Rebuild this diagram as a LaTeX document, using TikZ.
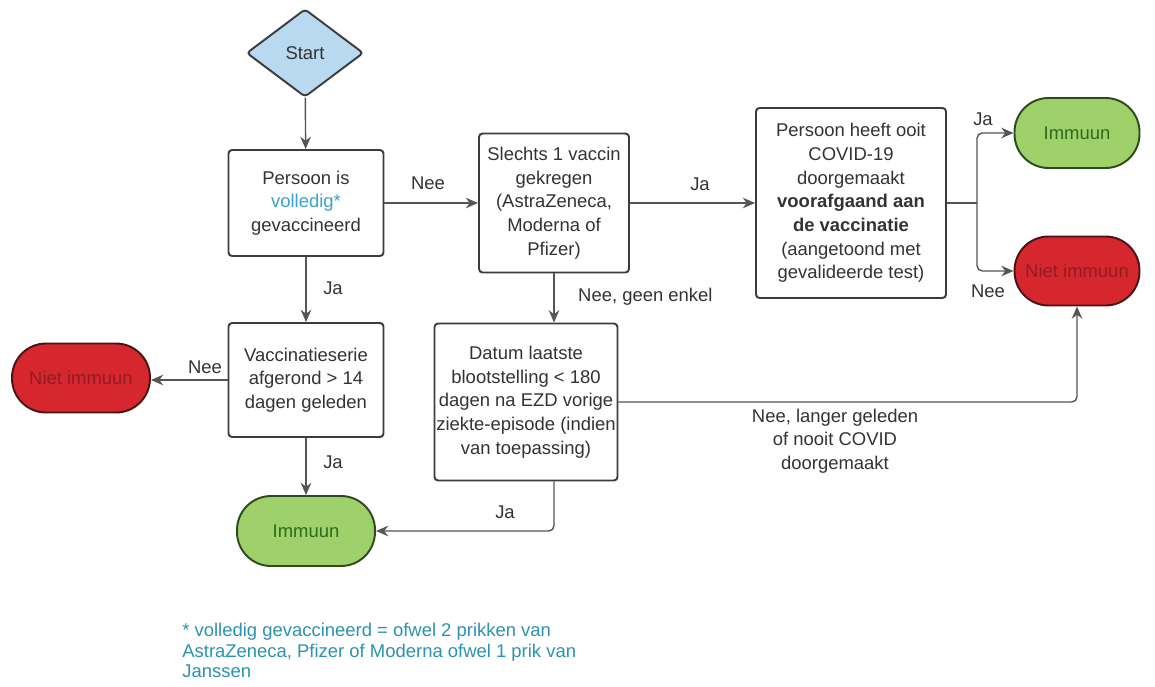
\documentclass[tikz,border=0pt]{standalone}
\usepackage{fontspec}
\setmainfont{Liberation Sans}
\usetikzlibrary{shapes.geometric, arrows.meta}
\definecolor{boxline}{HTML}{3C3C3C}
\definecolor{wireline}{HTML}{555555}
\definecolor{txt}{HTML}{333333}
\definecolor{startfill}{HTML}{B9D9F1}
\definecolor{immfill}{HTML}{9FD16A}
\definecolor{immline}{HTML}{2F4A1E}
\definecolor{immtext}{HTML}{2E6A1C}
\definecolor{nietfill}{HTML}{D6262E}
\definecolor{nietline}{HTML}{4A1416}
\definecolor{niettext}{HTML}{941C20}
\definecolor{notecol}{HTML}{2C93B0}
\definecolor{vollcol}{HTML}{3AA3CC}

\begin{document}
\begin{tikzpicture}[x=0.02cm, y=-0.02cm, font=\fontsize{10.5}{13.5}\selectfont,
  box/.style={draw=boxline, line width=1.1pt, rounded corners=2pt, fill=white, align=center, text=txt, inner sep=1pt},
  imm/.style={draw=immline, fill=immfill, text=immtext, line width=1.1pt, rounded corners=0.68cm, minimum height=1.4cm},
  niet/.style={draw=nietline, fill=nietfill, text=niettext, line width=1.1pt, rounded corners=0.68cm, minimum height=1.38cm},
  arr/.style={draw=wireline, line width=0.8pt, rounded corners=3pt, -{Stealth[length=7pt, width=6pt]}},
  lbl/.style={text=txt}]
\useasboundingbox[fill=white] (0,0) rectangle (1155,686);

\node[diamond, draw=boxline, fill=startfill, line width=1.1pt, rounded corners=2pt, minimum width=2.34cm, minimum height=1.76cm, inner sep=0pt, text=txt] (start) at (305,53) {Start};

\node[box, minimum width=3.1cm, minimum height=2.12cm] (vol) at (306,203) {Persoon is\\\textcolor{vollcol}{volledig*}\\gevaccineerd};
\node[box, minimum width=3.0cm, minimum height=2.78cm] (een) at (554,203) {Slechts 1 vaccin\\gekregen\\(AstraZeneca,\\Moderna of\\Pfizer)};
\node[box, minimum width=3.8cm, minimum height=3.8cm] (covid) at (851,203) {Persoon heeft ooit\\COVID-19\\doorgemaakt\\\textbf{voorafgaand aan}\\\textbf{de vaccinatie}\\(aangetoond met\\gevalideerde test)};
\node[box, minimum width=3.1cm, minimum height=2.28cm] (serie) at (306,380) {Vaccinatieserie\\afgerond > 14\\dagen geleden};
\node[box, minimum width=3.38cm, minimum height=3.14cm] (datum) at (526,402) {Datum laatste\\blootstelling < 180\\dagen na EZD vorige\\ziekte-episode (indien\\van toepassing)};

\node[imm, minimum width=2.5cm] (immR) at (1077,133) {Immuun};
\node[niet, minimum width=2.5cm] (nietR) at (1077,271) {Niet immuun};
\node[niet, minimum width=2.76cm] (nietL) at (81,378) {Niet immuun};
\node[imm, minimum width=2.76cm] (immB) at (306,531) {Immuun};

\coordinate (split) at (977,203);

\draw[arr] (start) -- (vol);
\draw[arr] (vol) -- (een);
\draw[arr] (een) -- (covid);
\draw[draw=wireline, line width=0.8pt] (covid.east) -- (split);
\draw[arr] (split) |- (immR.west);
\draw[arr] (split) |- (nietR.west);
\draw[arr] (vol) -- (serie);
\draw[arr] (een.south) -- (een.south |- datum.north);
\draw[arr] (serie.west) -- (serie.west -| nietL.east);
\draw[arr] (serie) -- (immB);
\draw[arr] (een.south |- datum.south) |- (immB.east);
\draw[arr] (datum.east) -| (nietR.south);

\node[lbl] (l1) at (428,183) {Nee};
\node[lbl] (l2) at (700,184) {Ja};
\node[lbl] (l3) at (983,119) {Ja};
\node[lbl] (l4) at (988,291) {Nee};
\node[lbl, anchor=west] (l5) at (572,297) {Nee, geen enkel};
\node[lbl] (l6) at (333,288) {Ja};
\node[lbl] (l7) at (205,367) {Nee};
\node[lbl] (l8) at (333,462) {Ja};
\node[lbl] (l9) at (505,512) {Ja};
\node[lbl, align=center] (l10) at (835,441) {Nee, langer geleden\\of nooit COVID\\doorgemaakt};

\node[anchor=north west, align=left, text=notecol, inner sep=0pt, font=\fontsize{10.5}{11.6}\selectfont] (note) at (182,623) {* volledig gevaccineerd = ofwel 2 prikken van\\AstraZeneca, Pfizer of Moderna ofwel 1 prik van\\Janssen};
\end{tikzpicture}
\end{document}
